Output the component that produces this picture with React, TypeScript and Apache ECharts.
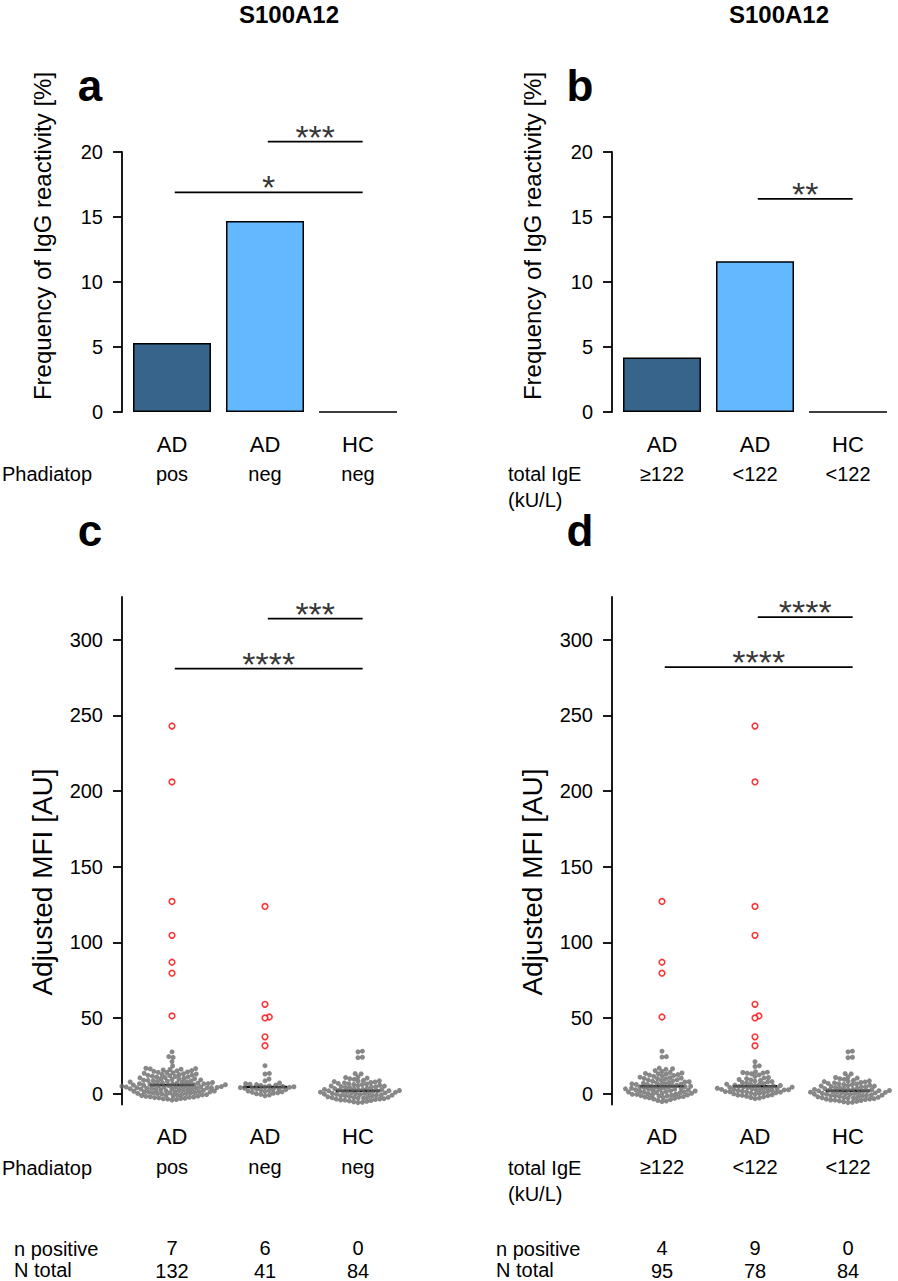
import React, { useEffect, useRef } from "react";
import * as echarts from "echarts";

// ---------- data ----------
const TITLE = "S100A12";
const categories = ["AD", "AD", "HC"];
const phadiatopGroups = ["pos", "neg", "neg"];
const igeGroups = ["≥122", "<122", "<122"];
const freqPhadiatop = [5.3, 14.7, 0];
const freqIgE = [4.2, 11.6, 0];
const freqTicks = [0, 5, 10, 15, 20];
const mfiTicks = [0, 50, 100, 150, 200, 250, 300];
const nPositivePhadiatop = [7, 6, 0];
const nTotalPhadiatop = [132, 41, 84];
const nPositiveIgE = [4, 9, 0];
const nTotalIgE = [95, 78, 84];

// adjusted MFI, positive (red) samples
const redPhadiatopPos = [243, 206, 127, 104.6, 86.8, 79.6, 51.3];
const redPhadiatopNeg = [123.7, 59, 50.6, 50, 37.5, 31.6];
const redIgEHigh = [127, 86.8, 79.6, 50.6];
const redIgELow = [243, 206, 123.7, 104.6, 59, 51.3, 50, 37.5, 31.6];
const redHC: number[] = [];

// adjusted MFI, negative (grey) samples
const greyPhadiatopPos = [
  27.6, 24.4, 23.9, 21.1, 18.2,
  16.7, 16.5, 16.3, 16.1, 15.9, 15.6, 15.2, 14.7, 14.3, 13.9,
  13.8, 13.4, 13.1, 12.7, 12.5, 12.2, 11.8, 11.5, 11.3, 11.0,
  10.6, 10.4, 10.1, 9.8, 9.6, 9.3, 9.0, 8.8, 8.5, 8.3,
  8.1, 7.9, 7.6, 7.4, 7.2, 7.0, 6.8, 6.6, 6.4, 6.3,
  6.1, 5.9, 5.8, 5.6, 5.4, 5.3, 5.1, 5.0, 4.8, 4.7,
  4.6, 4.4, 4.3, 4.2, 4.0, 3.9, 3.8, 3.7, 3.6, 3.5,
  3.3, 3.1, 2.9, 2.7, 2.5, 2.3, 2.1, 1.9, 1.7, 1.5,
  1.3, 1.1, 0.9, 0.7, 0.5, 0.3, 0.1, -0.1, -0.3, -0.5,
  -0.7, -0.9, -1.1, -1.3, -1.5, -1.7, -1.9, -2.1, -2.3, -2.5,
  -2.7, -2.9, -3.1, -3.3, -3.5, -3.7, -4.0, -4.3, 0.0, 1.0,
  2.0, 3.0, 4.5, 5.5, 6.5, 7.7, 8.7, 9.9, 10.9, 12.0,
  12.9, 14.0, 15.0, 2.6, 0.4, 1.2, 3.4, 5.7, -1.0, 7.3,
];
const greyPhadiatopNeg = [
  18.4, 13.3, 12.9, 9.6, 8.4,
  7.0, 6.6, 6.2, 5.9, 5.6, 5.3, 5.0, 4.7, 4.5, 4.3,
  4.1, 3.9, 3.7, 3.5, 3.3, 3.1, 2.9, 2.6, 2.3, 2.0,
  1.7, 1.4, 1.1, 0.8, 0.5, 0.2, -0.2, -0.6, -1.0, -1.5,
];
const greyHC = [
  28.0, 27.6, 24.0, 23.7, 13.2, 13.0,
  10.2, 9.4, 8.7, 8.1, 7.6, 7.1, 6.7, 6.3, 5.9, 5.5,
  5.2, 4.9, 4.6, 4.3, 4.0, 3.7, 3.4, 3.1, 2.8, 2.6,
  2.3, 2.1, 1.8, 1.6, 1.3, 1.1, 0.8, 0.6, 0.4, 0.1,
  -0.1, -0.4, -0.6, -0.9, -1.1, -1.4, -1.6, -1.9, -2.2, -2.5,
  -2.8, -3.1, -3.4, -3.7, -4.0, -4.3, -4.6, -4.9, -5.2, -5.5,
  11.0, 9.8, 8.4, 7.3, 6.0, 5.0, 4.4, -5.8, -4.4, -3.6,
  -2.6, -1.4, 0.7, 1.4, 2.0, 2.7, -0.5, 0.2, -3.0, -1.2,
  0.9, 3.3, -2.3, 1.9, 6.5, 7.9, 10.6, -6.0,
];
const greyIgEHigh = [
  28.0, 24.4, 24.1,
  16.8, 16.4, 16.0, 14.6, 13.6, 13.3, 13.1, 12.8, 12.5, 11.9,
  11.4, 10.8, 10.2, 9.7, 9.1, 8.6, 8.2, 7.8, 7.3, 6.9,
  6.6, 6.2, 5.9, 5.6, 5.3, 5.0, 4.8, 4.6, 4.3, 4.1,
  3.9, 3.7, 3.5, 3.3, 3.1, 2.9, 2.7, 2.5, 2.3, 2.1,
  1.9, 1.7, 1.5, 1.3, 1.1, 0.9, 0.7, 0.5, 0.3, 0.1,
  -0.1, -0.3, -0.5, -0.8, -1.1, -1.4, -1.7, -2.0, -2.3, -2.6,
  -2.9, -3.2, -3.6, -4.0, -5.0, 1.0, -4.6, 3.0, 15.2, 5.5,
  7.0, 8.4, 9.9, 11.7, -5.4, 14.0, 12.2, 10.5, -0.6, -1.6,
  -2.4, 4.4, 6.0, 8.9, -1.0, 7.6, 10.0, 6.4,
];
const greyIgELow = [
  21.0, 18.3, 17.9, 14.4, 14.1, 13.9, 13.6, 13.4, 13.1, 12.3,
  11.3, 10.6, 9.9, 9.3, 8.7, 8.2, 7.7, 7.3, 6.9, 6.5,
  6.2, 5.9, 5.6, 5.3, 5.0, 4.7, 4.5, 4.3, 4.1, 3.9,
  3.7, 3.5, 3.3, 3.1, 2.9, 2.7, 2.5, 2.3, 2.1, 1.9,
  1.7, 1.5, 1.3, 1.1, 0.9, 0.7, 0.5, 0.3, 0.1, -0.2,
  -0.5, -0.8, -1.1, -1.4, -1.8, -2.2, -2.6, 9.0, 2.4, 7.9,
  4.2, 5.2, 6.0, -3.0, 1.2, 10.3, 2.8, -3.4, -1.2,
];

// significance brackets: from/to = category index, y = height in axis units
const sigA = [
  { from: 0, to: 2, y: 16.9, label: "*" },
  { from: 1, to: 2, y: 20.8, label: "***" },
];
const sigB = [{ from: 1, to: 2, y: 16.4, label: "**" }];
const sigC = [
  { from: 0, to: 2, y: 281, label: "****" },
  { from: 1, to: 2, y: 314, label: "***" },
];
const sigD = [
  { from: 0, to: 2, y: 282, label: "****" },
  { from: 1, to: 2, y: 315, label: "****" },
];

// ---------- layout ----------
const W = 898;
const H = 1281;
const FONT = "'Liberation Sans', Arial, Helvetica, sans-serif";
const DX = 490;
const GRID_LEFT = 125.5;
const GRID_W = 279;
const BAND = GRID_W / 3;
const TOP_A = 152;
const H_A = 260;
const TOP_C = 597;
const H_C = 509;
const MFI_MIN = -7.25;
const MFI_MAX = 328.3;
const DOT_D = 4.4;
const DOT_SIZE = 5.0;
const DARK = "#36648B";
const LIGHT = "#63B8FF";
const GREY = "#6a6a6a";

function swarmOffsets(values: number[], pxPerUnit: number, d: number): number[] {
  const order = values.map((_, i) => i).sort((a, b) => values[a] - values[b]);
  const placed: { x: number; y: number }[] = [];
  const out = new Array(values.length).fill(0);
  for (const i of order) {
    const y = values[i] * pxPerUnit;
    const near = placed.filter((p) => Math.abs(p.y - y) < d);
    const cands = [0];
    for (const p of near) {
      const dx = Math.sqrt(d * d - (p.y - y) * (p.y - y));
      cands.push(p.x + dx, p.x - dx);
    }
    cands.sort((a, b) => Math.abs(a) - Math.abs(b));
    let chosen = 0;
    for (const c of cands) {
      if (near.every((p) => (p.x - c) ** 2 + (p.y - y) ** 2 >= d * d - 1e-6)) {
        chosen = c;
        break;
      }
    }
    placed.push({ x: chosen, y });
    out[i] = chosen;
  }
  return out;
}

function median(arr: number[]) {
  const s = [...arr].sort((a, b) => a - b);
  const m = Math.floor(s.length / 2);
  return s.length % 2 ? s[m] : (s[m - 1] + s[m]) / 2;
}

function buildOption() {
  const grid: any[] = [];
  const xAxis: any[] = [];
  const yAxis: any[] = [];
  const series: any[] = [];
  const graphic: any[] = [];

  const panels = [
    { key: "a", dx: 0, top: TOP_A, h: H_A, kind: "bar", bars: freqPhadiatop, groups: phadiatopGroups, sig: sigA },
    { key: "b", dx: DX, top: TOP_A, h: H_A, kind: "bar", bars: freqIgE, groups: igeGroups, sig: sigB },
    {
      key: "c", dx: 0, top: TOP_C, h: H_C, kind: "swarm", groups: phadiatopGroups, sig: sigC,
      red: [redPhadiatopPos, redPhadiatopNeg, redHC], grey: [greyPhadiatopPos, greyPhadiatopNeg, greyHC],
      nPos: nPositivePhadiatop, nTot: nTotalPhadiatop,
    },
    {
      key: "d", dx: DX, top: TOP_C, h: H_C, kind: "swarm", groups: igeGroups, sig: sigD,
      red: [redIgEHigh, redIgELow, redHC], grey: [greyIgEHigh, greyIgELow, greyHC],
      nPos: nPositiveIgE, nTot: nTotalIgE,
    },
  ];

  panels.forEach((p: any, k) => {
    const isBar = p.kind === "bar";
    grid.push({ left: GRID_LEFT + p.dx, top: p.top, width: GRID_W, height: p.h, containLabel: false });
    const keys = categories.map((c, i) => c + " " + p.groups[i] + " " + i);
    xAxis.push({
      type: "category",
      gridIndex: k,
      data: keys,
      position: "bottom",
      axisLine: { show: false, onZero: false },
      axisTick: { show: false },
      axisLabel: {
        interval: 0,
        margin: 17,
        color: "#000",
        fontFamily: FONT,
        formatter: (_v: string, i: number) =>
          isBar
            ? `{a|${categories[i]}}\n{b|${p.groups[i]}}`
            : `{a|${categories[i]}}\n{b|${p.groups[i]}}\n{sp| }\n{c|${p.nPos[i]}}\n{c|${p.nTot[i]}}`,
        rich: {
          a: { fontSize: 22, lineHeight: 30, fontFamily: FONT, color: "#000" },
          b: { fontSize: 20, lineHeight: 30, fontFamily: FONT, color: "#000" },
          sp: { fontSize: 10, lineHeight: 55 },
          c: { fontSize: 20, lineHeight: 23, fontFamily: FONT, color: "#000" },
        },
      },
    });
    xAxis.push({ type: "value", gridIndex: k, min: -0.5, max: 2.5, show: false, position: "top" });
    const ticks = isBar ? freqTicks : mfiTicks;
    yAxis.push({
      type: "value",
      gridIndex: k,
      min: isBar ? 0 : MFI_MIN,
      max: isBar ? 20 : MFI_MAX,
      offset: 3.5,
      axisLine: { show: true, onZero: false, lineStyle: { color: "#000", width: 1.8 } },
      axisTick: { show: true, length: 9, lineStyle: { color: "#000", width: 1.8 }, customValues: ticks },
      axisLabel: { margin: 19, fontSize: 20, color: "#000", fontFamily: FONT, customValues: ticks },
      splitLine: { show: false },
    });
    const xCat = 2 * k;
    const xVal = 2 * k + 1;

    if (isBar) {
      series.push({
        type: "bar",
        xAxisIndex: xCat,
        yAxisIndex: k,
        barWidth: 78,
        data: p.bars.map((v: number, i: number) => ({
          value: v,
          itemStyle: { color: i === 0 ? DARK : LIGHT },
        })),
        itemStyle: { borderColor: "#000", borderWidth: 1.5 },
        silent: true,
      });
    } else {
      const ppu = H_C / (MFI_MAX - MFI_MIN);
      const greyPts: any[] = [];
      const redPts: any[] = [];
      for (let g = 0; g < 3; g++) {
        const all = [...p.red[g], ...p.grey[g]];
        const offs = swarmOffsets(all, ppu, DOT_D);
        all.forEach((v, i) => {
          const pt = [g + offs[i] / BAND, v];
          if (i < p.red[g].length) redPts.push(pt);
          else greyPts.push(pt);
        });
        const med = median(all);
        series.push({
          type: "line",
          xAxisIndex: xVal,
          yAxisIndex: k,
          data: [[g - 0.24, med], [g + 0.24, med]],
          symbol: "none",
          lineStyle: { color: "#000", width: 2.5 },
          z: 2,
          silent: true,
        });
      }
      series.push({
        type: "scatter",
        xAxisIndex: xVal,
        yAxisIndex: k,
        data: greyPts,
        symbolSize: DOT_SIZE,
        itemStyle: { color: GREY },
        clip: false,
        z: 3,
        silent: true,
      });
      series.push({
        type: "scatter",
        xAxisIndex: xVal,
        yAxisIndex: k,
        data: redPts,
        symbolSize: DOT_SIZE + 0.6,
        itemStyle: { color: "#fff", borderColor: "#ff0000", borderWidth: 1.6 },
        clip: false,
        z: 4,
        silent: true,
      });
    }

    p.sig.forEach((s: any) => {
      const x1 = s.from + 0.03;
      const x2 = s.to + 0.05;
      series.push({
        type: "line",
        xAxisIndex: xVal,
        yAxisIndex: k,
        data: [[x1, s.y], [x2, s.y]],
        symbol: "none",
        clip: false,
        lineStyle: { color: "#000", width: 1.8 },
        z: 5,
        silent: true,
      });
      series.push({
        type: "scatter",
        xAxisIndex: xVal,
        yAxisIndex: k,
        data: [[(x1 + x2) / 2, s.y]],
        symbolSize: 1,
        itemStyle: { color: "rgba(0,0,0,0)" },
        clip: false,
        z: 5,
        silent: true,
        label: {
          show: true,
          position: "inside",
          offset: [0, -5],
          formatter: s.label,
          fontSize: 34,
          color: "#000",
          fontFamily: FONT,
        },
      });
    });

    // panel letter
    graphic.push({
      type: "text",
      x: 90 + p.dx,
      y: p.top - 67,
      style: { text: p.key, fontSize: 44, fontWeight: "bold", fontFamily: FONT, fill: "#000", align: "center", verticalAlign: "middle" },
    });
    // y axis name
    graphic.push({
      type: "text",
      x: 42 + p.dx,
      y: isBar ? 236 : 882,
      rotation: Math.PI / 2,
      style: {
        text: isBar ? "Frequency of IgG reactivity [%]" : "Adjusted MFI [AU]",
        fontSize: isBar ? 24 : 28,
        fontFamily: FONT,
        fill: "#000",
        align: "center",
        verticalAlign: "middle",
      },
    });
  });

  // titles
  [0, DX].forEach((dx) => {
    graphic.push({
      type: "text",
      x: 289 + dx,
      y: 14,
      style: { text: TITLE, fontSize: 24, fontWeight: "bold", fontFamily: FONT, fill: "#000", align: "center", verticalAlign: "middle" },
    });
  });

  const rowText = (text: string, x: number, y: number) => ({
    type: "text",
    x,
    y,
    style: { text, fontSize: 20, fontFamily: FONT, fill: "#000", align: "left", verticalAlign: "middle" },
  });
  graphic.push(rowText("Phadiatop", 2, 474));
  graphic.push(rowText("total IgE", 508, 474));
  graphic.push(rowText("(kU/L)", 508, 500));
  graphic.push(rowText("Phadiatop", 2, 1168));
  graphic.push(rowText("total IgE", 508, 1168));
  graphic.push(rowText("(kU/L)", 508, 1194));
  graphic.push(rowText("n positive", 14, 1249));
  graphic.push(rowText("N total", 14, 1270));
  graphic.push(rowText("n positive", 496, 1249));
  graphic.push(rowText("N total", 496, 1270));

  return {
    animation: false,
    backgroundColor: "#fff",
    textStyle: { fontFamily: FONT },
    grid,
    xAxis,
    yAxis,
    series,
    graphic,
  };
}

export default function App() {
  const ref = useRef<HTMLDivElement>(null);
  useEffect(() => {
    document.body.style.margin = "0";
    if (!ref.current) return;
    const chart = echarts.init(ref.current, undefined, { renderer: "svg", width: W, height: H });
    chart.setOption(buildOption() as any);
    return () => chart.dispose();
  }, []);
  return <div ref={ref} style={{ width: W, height: H }} />;
}
